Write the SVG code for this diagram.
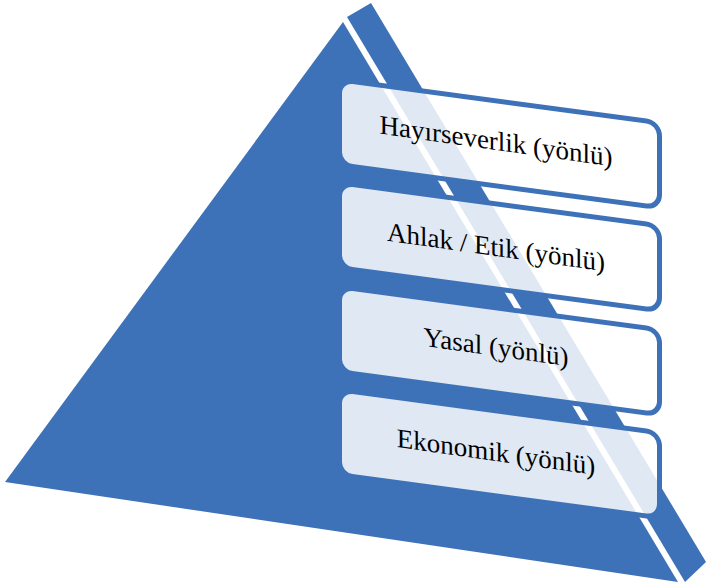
<svg xmlns="http://www.w3.org/2000/svg" width="706" height="587" viewBox="0 0 706 587">
<style>
.face{fill:#3d71b8;}
.box{fill:#ffffff;fill-opacity:0.84;stroke:#3d71b8;stroke-width:5;}
.lbl{font-family:"Liberation Serif","Times New Roman",serif;font-size:27px;fill:#000;text-anchor:middle;}
</style>
<rect width="706" height="587" fill="#ffffff"/>
<g id="pyramid">
<polygon class="face" points="343,22 5,482 678,582"/>
<polygon class="face" points="347,17 371,3 706,562 685,582"/>
</g>
<g id="connectors"></g>
<g id="node-hayirseverlik">
<g transform="translate(337,77) skewY(7.63)"><rect class="box" x="2.5" y="2.5" width="320" height="85" rx="13"/></g>
<text class="lbl" transform="translate(496,150) skewY(8)">Hayırseverlik (yönlü)</text>
</g>
<g id="node-ahlak">
<g transform="translate(337,180) skewY(7.63)"><rect class="box" x="2.5" y="2.5" width="320" height="85" rx="13"/></g>
<text class="lbl" transform="translate(496,256) skewY(8)">Ahlak / Etik (yönlü)</text>
</g>
<g id="node-yasal">
<g transform="translate(337,284) skewY(7.63)"><rect class="box" x="2.5" y="2.5" width="320" height="85" rx="13"/></g>
<text class="lbl" transform="translate(496,356) skewY(8)">Yasal (yönlü)</text>
</g>
<g id="node-ekonomik">
<g transform="translate(337,387) skewY(7.63)"><rect class="box" x="2.5" y="2.5" width="320" height="85" rx="13"/></g>
<text class="lbl" transform="translate(496,461) skewY(8)">Ekonomik (yönlü)</text>
</g>
</svg>
